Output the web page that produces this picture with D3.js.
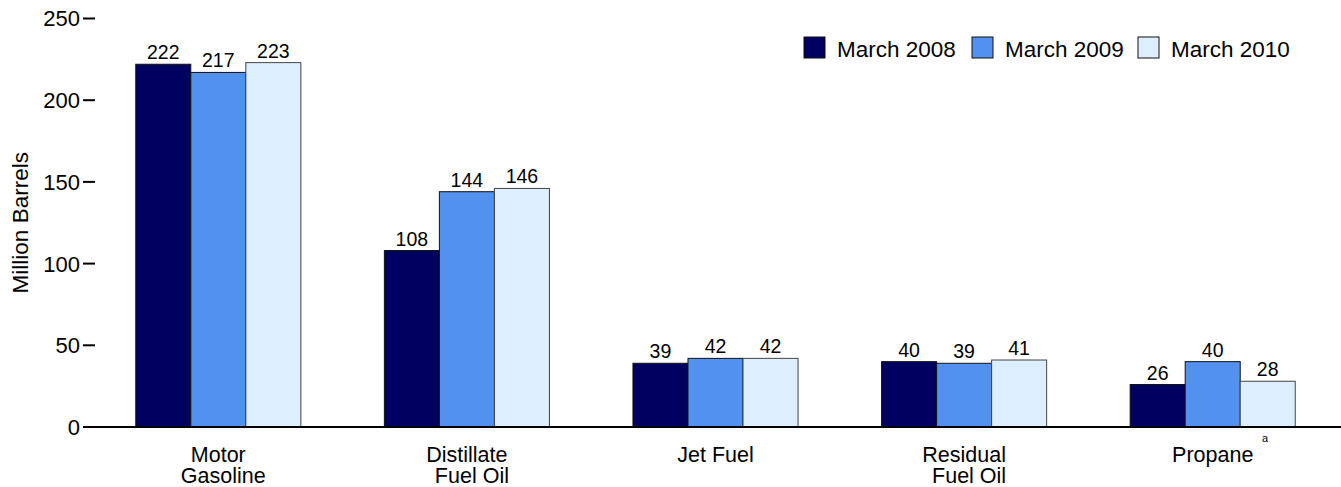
<!DOCTYPE html>
<html>
<head>
<meta charset="utf-8">
<script src="https://cdn.jsdelivr.net/npm/d3@7"></script>
<style>
  html, body { margin: 0; padding: 0; background: #fff; }
  svg { display: block; font-family: "Liberation Sans", Arial, sans-serif; }
</style>
</head>
<body>
<svg id="chart" width="1341" height="487"></svg>
<script>
const categories = ["Motor Gasoline", "Distillate Fuel Oil", "Jet Fuel", "Residual Fuel Oil", "Propane"];
const categoryLines = [["Motor", "Gasoline"], ["Distillate", "Fuel Oil"], ["Jet Fuel"], ["Residual", "Fuel Oil"], ["Propane"]];
const seriesNames = ["March 2008", "March 2009", "March 2010"];
const march2008 = [222, 108, 39, 40, 26];
const march2009 = [217, 144, 42, 39, 40];
const march2010 = [223, 146, 42, 41, 28];
const yTicks = [0, 50, 100, 150, 200, 250];
const seriesColors = ["#000060", "#5291EE", "#DDEEFF"];

const seriesValues = [march2008, march2009, march2010];
const svg = d3.select("#chart");

const y = d3.scaleLinear().domain([0, 250]).range([427, 18.5]);
const x0 = d3.scaleBand().domain(categories).range([94, 1337])
  .paddingInner(0.336).paddingOuter(0.168);
const x1 = d3.scaleBand().domain(seriesNames).range([0, x0.bandwidth()]);

// y axis ticks
const yAxis = svg.append("g");
yAxis.selectAll("line").data(yTicks).join("line")
  .attr("x1", 83).attr("x2", 95)
  .attr("y1", d => y(d)).attr("y2", d => y(d))
  .attr("stroke", "#000").attr("stroke-width", 2);
yAxis.selectAll("text").data(yTicks).join("text")
  .attr("x", 80).attr("y", d => y(d)).attr("dy", "0.36em")
  .attr("text-anchor", "end").attr("font-size", 22).attr("fill", "#000")
  .text(d => d);

// axis title
svg.append("text")
  .attr("transform", `translate(28,${y(125)}) rotate(-90)`)
  .attr("text-anchor", "middle").attr("font-size", 22.5).attr("fill", "#000")
  .text("Million Barrels");

// bars
const groups = svg.append("g").selectAll("g").data(categories).join("g")
  .attr("transform", d => `translate(${x0(d)},0)`);

groups.each(function(cat, ci) {
  const g = d3.select(this);
  const vals = seriesNames.map((s, si) => ({ s, si, v: seriesValues[si][ci] }));
  g.selectAll("rect").data(vals).join("rect")
    .attr("x", d => x1(d.s)).attr("width", x1.bandwidth())
    .attr("y", d => y(d.v)).attr("height", d => y(0) - y(d.v))
    .attr("fill", d => seriesColors[d.si])
    .attr("stroke", d => d.si === 2 ? "#444" : "#111").attr("stroke-width", 1);
  g.selectAll("text.val").data(vals).join("text").attr("class", "val")
    .attr("x", d => x1(d.s) + x1.bandwidth() / 2).attr("y", d => y(d.v) - 5)
    .attr("text-anchor", "middle").attr("font-size", 19.5).attr("fill", "#000")
    .text(d => d.v);
});

// baseline
svg.append("line").attr("x1", 83).attr("x2", 1341)
  .attr("y1", y(0)).attr("y2", y(0))
  .attr("stroke", "#000").attr("stroke-width", 2);

// category labels
const catG = svg.append("g");
categories.forEach((cat, ci) => {
  const cx = x0(cat) + x0.bandwidth() / 2;
  categoryLines[ci].forEach((ln, li) => {
    catG.append("text").attr("text-anchor", "middle")
      .attr("font-size", 21.5).attr("fill", "#000")
      .attr("x", cx + (li === 1 ? 5 : 0)).attr("y", 462 + li * 21).text(ln);
  });
  if (cat === "Propane") {
    catG.append("text").attr("x", 1265).attr("y", 442)
      .attr("text-anchor", "middle").attr("font-size", 11).attr("fill", "#000").text("a");
  }
});

// legend
const legendX = [804, 972, 1138];
const leg = svg.append("g");
seriesNames.forEach((s, si) => {
  leg.append("rect").attr("x", legendX[si]).attr("y", 37).attr("width", 21).attr("height", 21)
    .attr("fill", seriesColors[si]).attr("stroke", "#111").attr("stroke-width", 1);
  leg.append("text").attr("x", legendX[si] + 33).attr("y", 57)
    .attr("font-size", 22.5).attr("fill", "#000").text(s);
});
</script>
</body>
</html>
